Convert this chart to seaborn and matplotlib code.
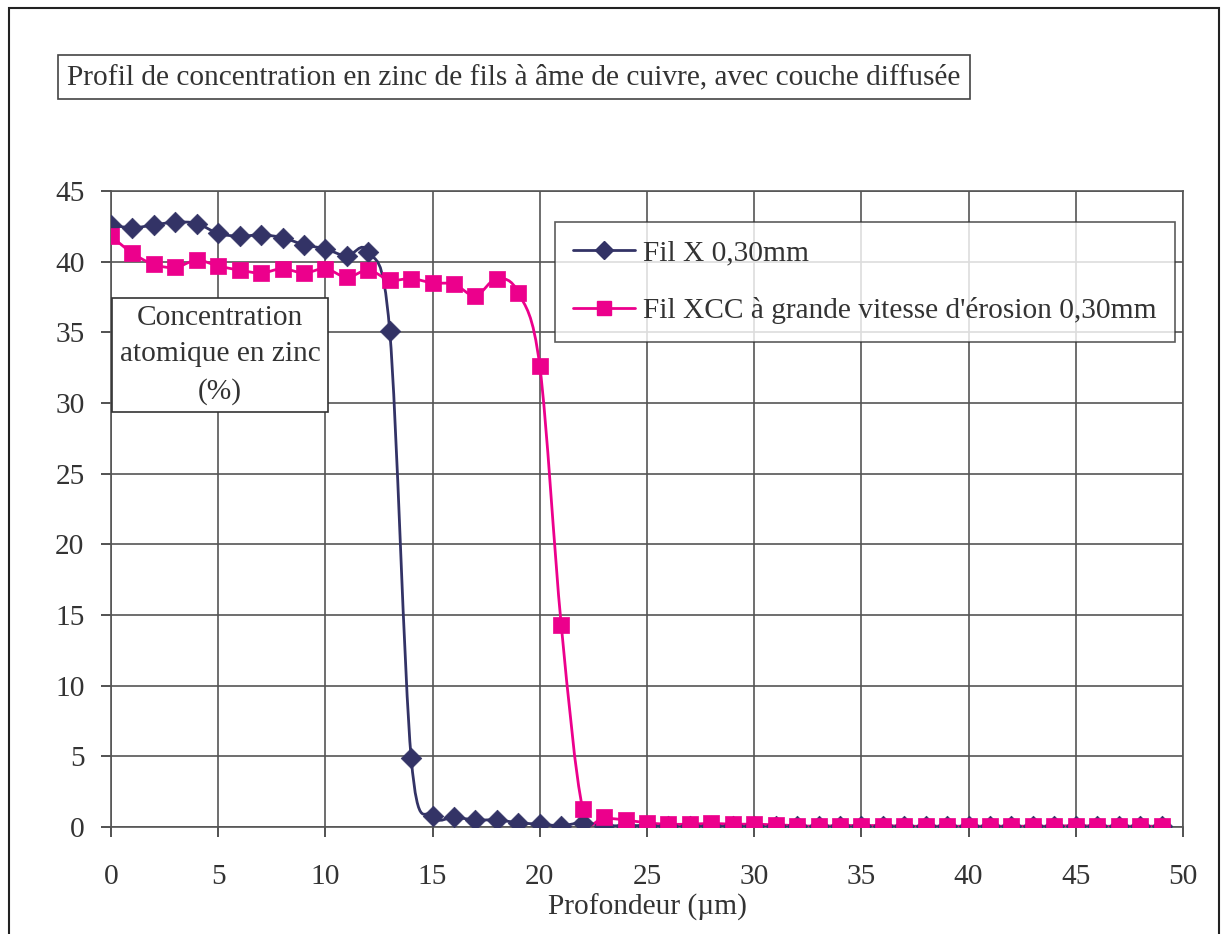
import numpy as np
import pandas as pd
import seaborn as sns
import matplotlib.pyplot as plt
from matplotlib.path import Path
from matplotlib.patches import PathPatch, Rectangle
from matplotlib.lines import Line2D

# data
depth = list(range(50))
fil_x = [42.6, 42.4, 42.6, 42.8, 42.7, 42.0, 41.8, 41.9, 41.7, 41.2,
         40.9, 40.4, 40.7, 35.1, 4.9, 0.8, 0.7, 0.5, 0.5, 0.3,
         0.2, 0.1, 0.3, 0.1, 0.1, 0.1, 0.1, 0.1, 0.1, 0.1,
         0.1, 0.1, 0.05, 0.05, 0.05, 0.05, 0.05, 0.05, 0.05, 0.05,
         0.05, 0.05, 0.05, 0.05, 0.05, 0.05, 0.05, 0.05, 0.05, 0.05]
fil_xcc = [41.8, 40.6, 39.8, 39.6, 40.1, 39.7, 39.4, 39.2, 39.5, 39.2,
           39.5, 38.9, 39.4, 38.7, 38.8, 38.5, 38.4, 37.6, 38.8, 37.8,
           32.6, 14.3, 1.3, 0.7, 0.5, 0.3, 0.2, 0.2, 0.25, 0.2,
           0.2, 0.15, 0.1, 0.05, 0.1, 0.1, 0.1, 0.05, 0.05, 0.05,
           0.05, 0.05, 0.05, 0.05, 0.05, 0.1, 0.05, 0.05, 0.05, 0.05]
labels = ["Fil X 0,30mm", "Fil XCC à grande vitesse d'érosion 0,30mm"]
colors = ["#333366", "#EC008C"]
markers = ["D", "s"]

df = pd.DataFrame({"Profondeur": depth * 2,
                   "Zn": fil_x + fil_xcc,
                   "Fil": [labels[0]] * 50 + [labels[1]] * 50})

sns.set_style("white")
plt.rcParams["font.family"] = ["Liberation Serif", "DejaVu Serif"]
FS = 21.2


def smooth_path(x, y):
    # Excel-style smoothed line: cubic bezier through every point
    x = np.asarray(x, float)
    y = np.asarray(y, float)
    n = len(x)
    verts = [(x[0], y[0])]
    codes = [Path.MOVETO]
    for i in range(n - 1):
        i0 = max(i - 1, 0)
        i3 = min(i + 2, n - 1)
        c1 = (x[i] + (x[i + 1] - x[i0]) / 6, y[i] + (y[i + 1] - y[i0]) / 6)
        c2 = (x[i + 1] - (x[i3] - x[i]) / 6, y[i + 1] - (y[i3] - y[i]) / 6)
        verts += [c1, c2, (x[i + 1], y[i + 1])]
        codes += [Path.CURVE4] * 3
    return Path(verts, codes)


fig = plt.figure(figsize=(12.21, 9.34), dpi=100)
ax = fig.add_axes([111 / 1221, 107 / 934, 1072 / 1221, 636 / 934])

for lab, col, mk in zip(labels, colors, markers):
    sub = df[df["Fil"] == lab]
    ax.add_patch(PathPatch(smooth_path(sub["Profondeur"], sub["Zn"]),
                           facecolor="none", edgecolor=col, lw=2, zorder=3))
    sns.scatterplot(data=sub, x="Profondeur", y="Zn", color=col, marker=mk,
                    s=120 if mk == "s" else 110, edgecolor=col, linewidth=0.5,
                    ax=ax, zorder=4, legend=False)

ax.set_xlim(0, 50)
ax.set_ylim(0, 45)
ax.set_xticks(range(0, 51, 5))
ax.set_yticks(range(0, 46, 5))
ax.grid(True, color="#555555", lw=1.2)
ax.set_axisbelow(True)
for s in ax.spines.values():
    s.set_color("#555555")
    s.set_linewidth(1.2)
ax.tick_params(axis="both", labelsize=FS, colors="#333333", length=7,
               direction="out", left=True, bottom=True, width=1.2)
ax.tick_params(axis="x", pad=20)
ax.tick_params(axis="y", pad=12)
for t in ax.get_xticklabels() + ax.get_yticklabels():
    t.set_color("#333333")
ax.set_xlabel("Profondeur (µm)", fontsize=FS, labelpad=2, color="#333333")
ax.set_ylabel("")

handles = [Line2D([], [], color=c, marker=m, lw=2, markersize=10 if m == "s" else 9)
           for c, m in zip(colors, markers)]
leg = ax.legend(handles, labels, loc="upper left",
                bbox_to_anchor=(555 / 1221, 1 - 222 / 934),
                bbox_transform=fig.transFigure, fontsize=FS, frameon=True,
                fancybox=False, edgecolor="#333333", labelspacing=1.05,
                handlelength=2.1, handletextpad=0.3, borderpad=0.6,
                borderaxespad=0)
leg.get_frame().set_linewidth(1.2)
for t in leg.get_texts():
    t.set_color("#333333")

fig.text(220 / 1221, 1 - 355 / 934, "Concentration\natomique en zinc\n(%)",
         ha="center", va="center", fontsize=FS, color="#333333",
         linespacing=1.5,
         bbox=dict(boxstyle="square,pad=0.25", facecolor="white",
                   edgecolor="#333333", lw=1.2), zorder=10)

fig.text(514 / 1221, 1 - 77 / 934,
         "Profil de concentration en zinc de fils à âme de cuivre, avec couche diffusée",
         ha="center", va="center", fontsize=FS, color="#333333",
         bbox=dict(boxstyle="square,pad=0.3", facecolor="white",
                   edgecolor="#444444", lw=1.2))

fig.patches.append(Rectangle((9 / 1221, -0.05), 1210 / 1221, 1.05 - 8 / 934,
                             transform=fig.transFigure, fill=False,
                             edgecolor="#222222", lw=1.5))

fig.savefig("out.png", dpi=100)
